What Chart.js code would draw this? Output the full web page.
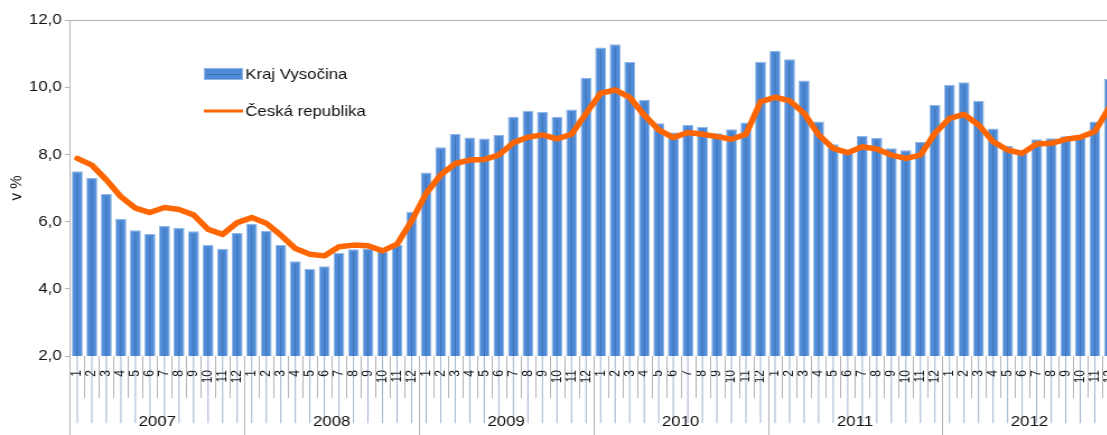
<!DOCTYPE html>
<html>
<head>
<meta charset="utf-8">
<script src="https://cdn.jsdelivr.net/npm/chart.js@4.4.1/dist/chart.umd.min.js"></script>
<style>
  html, body { margin: 0; padding: 0; background: #fff; overflow: hidden; }
  /* the source picture is stretched sideways, so the chart is too */
  #wrap { position: absolute; left: 0; top: 0; width: 1007px; height: 435px; transform: scaleX(1.12); transform-origin: 0 0; }
</style>
</head>
<body>
<div id="wrap"><canvas id="chart"></canvas></div>
<script>
const years = ['2007', '2008', '2009', '2010', '2011', '2012'];
const months = ['1', '2', '3', '4', '5', '6', '7', '8', '9', '10', '11', '12'];

// Kraj Vysočina (bars), v %
const krajVysocina = [
  7.50, 7.30, 6.82, 6.08, 5.74, 5.64, 5.88, 5.82, 5.71, 5.31, 5.19, 5.66,
  5.93, 5.72, 5.30, 4.82, 4.60, 4.67, 5.07, 5.18, 5.20, 5.12, 5.30, 6.29,
  7.46, 8.21, 8.61, 8.50, 8.47, 8.58, 9.12, 9.30, 9.27, 9.12, 9.34, 10.28,
  11.18, 11.28, 10.75, 9.62, 8.93, 8.65, 8.88, 8.82, 8.63, 8.75, 8.95, 10.76,
  11.08, 10.83, 10.20, 8.98, 8.30, 8.13, 8.55, 8.49, 8.18, 8.12, 8.37, 9.47,
  10.07, 10.15, 9.60, 8.77, 8.26, 8.11, 8.45, 8.48, 8.54, 8.55, 8.98, 10.25
];

// Česká republika (line), v %
const ceskaRepublika = [
  7.88, 7.68, 7.24, 6.74, 6.40, 6.27, 6.42, 6.36, 6.20, 5.77, 5.62, 5.97,
  6.12, 5.95, 5.60, 5.20, 5.03, 4.98, 5.25, 5.30, 5.28, 5.13, 5.33, 6.02,
  6.84, 7.39, 7.73, 7.83, 7.85, 7.98, 8.35, 8.51, 8.58, 8.46, 8.60, 9.22,
  9.82, 9.92, 9.70, 9.17, 8.73, 8.50, 8.65, 8.60, 8.53, 8.45, 8.60, 9.57,
  9.70, 9.60, 9.22, 8.58, 8.18, 8.05, 8.23, 8.16, 7.98, 7.88, 7.98, 8.63,
  9.07, 9.19, 8.88, 8.38, 8.13, 8.03, 8.31, 8.33, 8.45, 8.51, 8.68, 9.40
];

const yTicks = [2, 4, 6, 8, 10, 12];

const labels = years.flatMap(() => months);

const grey = '#b4b4b4';
const barBlue = '#4f8bd6';
const orange = '#ff6600';
const fontFamily = '"Liberation Sans", Arial, sans-serif';

Chart.defaults.font.family = fontFamily;
Chart.defaults.color = '#111';

// month / year separators, year labels, legend and bar center stripes
const decor = {
  id: 'decor',
  afterDatasetDraw(chart, args) {
    if (args.index !== 1) return;
    const c = chart.ctx;
    c.save();
    c.strokeStyle = 'rgba(45, 85, 150, 0.45)';
    c.lineWidth = 1;
    args.meta.data.forEach(b => {
      c.beginPath();
      c.moveTo(b.x, b.y + 3);
      c.lineTo(b.x, b.base);
      c.stroke();
    });
    c.restore();
  },
  afterDraw(chart) {
    const c = chart.ctx;
    const xs = chart.scales.x;
    const area = chart.chartArea;
    const step = xs.getPixelForValue(1) - xs.getPixelForValue(0);
    c.save();
    c.strokeStyle = grey;
    c.lineWidth = 1;
    for (let i = 0; i <= labels.length; i++) {
      const px = Math.round(xs.getPixelForValue(0) + (i - 0.5) * step) + 0.5;
      const yearEdge = i % months.length === 0;
      c.beginPath();
      c.moveTo(px, i === 0 ? area.top : area.bottom);
      c.lineTo(px, yearEdge ? chart.height : area.bottom + 42);
      c.stroke();
    }

    c.fillStyle = '#111';
    c.font = '15px ' + fontFamily;
    c.textAlign = 'center';
    c.textBaseline = 'middle';
    years.forEach((y, j) => {
      const first = xs.getPixelForValue(j * months.length);
      const last = xs.getPixelForValue(j * months.length + months.length - 1);
      c.fillText(y, (first + last) / 2, 422);
    });

    // legend
    c.fillStyle = barBlue;
    c.fillRect(182, 68, 35, 12);
    c.strokeStyle = '#8fb5e4';
    c.strokeRect(182.5, 68.5, 34, 11);
    c.strokeStyle = 'rgba(45, 85, 150, 0.5)';
    c.beginPath(); c.moveTo(184, 74.5); c.lineTo(215, 74.5); c.stroke();
    c.strokeStyle = orange;
    c.lineWidth = 3;
    c.beginPath(); c.moveTo(182, 111); c.lineTo(217, 111); c.stroke();
    c.fillStyle = '#111';
    c.textAlign = 'left';
    c.fillText('Kraj Vysočina', 219, 74.5);
    c.fillText('Česká republika', 219, 111.5);
    c.restore();
  }
};

new Chart(document.getElementById('chart'), {
  type: 'bar',
  data: {
    labels: labels,
    datasets: [
      {
        type: 'line',
        label: 'Česká republika',
        data: ceskaRepublika,
        borderColor: orange,
        borderWidth: 5.5,
        pointRadius: 0,
        tension: 0,
        borderJoinStyle: 'round',
        borderCapStyle: 'round',
        order: 0
      },
      {
        type: 'bar',
        label: 'Kraj Vysočina',
        data: krajVysocina,
        backgroundColor: barBlue,
        borderColor: '#8fb5e4',
        borderWidth: { left: 1, right: 1, top: 1, bottom: 0 },
        barPercentage: 0.75,
        categoryPercentage: 1,
        order: 1
      }
    ]
  },
  options: {
    responsive: true,
    maintainAspectRatio: false,
    animation: false,
    layout: { padding: { top: 20, right: 10, left: 0, bottom: 0 } },
    plugins: { legend: { display: false }, tooltip: { enabled: false } },
    scales: {
      x: {
        grid: { display: false, drawTicks: false },
        border: { display: false },
        ticks: { autoSkip: false, maxRotation: 90, minRotation: 90, padding: 14, font: { size: 12 }, color: '#111' },
        afterFit: s => { s.height = 79; s.paddingLeft = 0; s.paddingRight = 0; }
      },
      y: {
        min: 2,
        max: 12,
        afterBuildTicks: s => { s.ticks = yTicks.map(v => ({ value: v })); },
        ticks: { padding: 3, font: { size: 15 }, color: '#111', callback: v => v.toFixed(1).replace('.', ',') },
        grid: { color: c => (c.tick && c.tick.value === 12 ? grey : 'transparent'), tickColor: grey, tickLength: 4.5 },
        border: { color: grey },
        title: { display: true, text: 'v %', font: { size: 15 }, color: '#111', padding: { top: 6, bottom: 0 } },
        afterFit: s => { s.width = 62.5; }
      }
    }
  },
  plugins: [decor]
});
</script>
</body>
</html>
